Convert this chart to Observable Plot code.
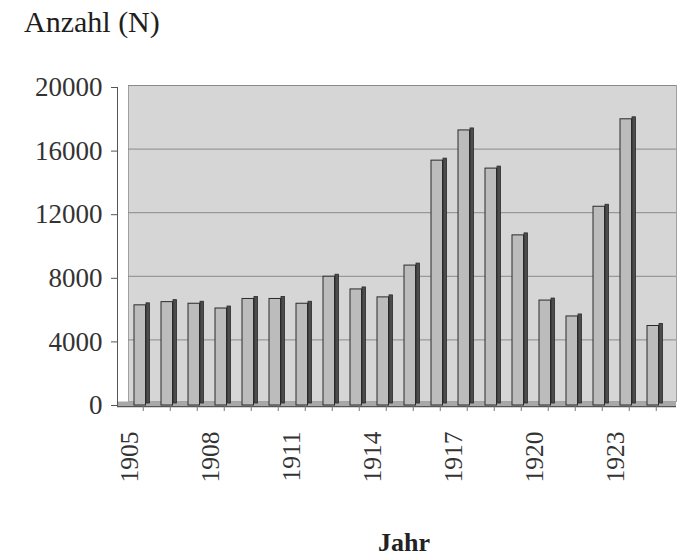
<!DOCTYPE html>
<html>
<head>
<meta charset="utf-8">
<script src="https://cdn.jsdelivr.net/npm/d3@7"></script>
<script src="https://cdn.jsdelivr.net/npm/@observablehq/plot@0.6"></script>
<style>
  html, body { margin: 0; padding: 0; background: #fff; }
  body { position: relative; width: 686px; height: 558px; overflow: hidden; font-family: "Liberation Serif", serif; color: #222; }
  #title { position: absolute; left: 24px; top: 5px; font-size: 30px; white-space: nowrap; color: #1e1e1e; }
  #chart { position: absolute; left: 0; top: 60px; }
  #xlabel { position: absolute; left: 304px; width: 200px; text-align: center; top: 528px; font-size: 26px; font-weight: bold; }
</style>
</head>
<body>
<div id="title">Anzahl (N)</div>
<div id="chart"></div>
<div id="xlabel">Jahr</div>
<script>
const years = [1905, 1906, 1907, 1908, 1909, 1910, 1911, 1912, 1913, 1914,
               1915, 1916, 1917, 1918, 1919, 1920, 1921, 1922, 1923, 1924];
const counts = [6300, 6500, 6400, 6100, 6700, 6700, 6400, 8100, 7300, 6800,
                8800, 15400, 17300, 14900, 10700, 6600, 5600, 12500, 18000, 5000];
const yTicks = [0, 4000, 8000, 12000, 16000, 20000];
const xTickYears = [1905, 1908, 1911, 1914, 1917, 1920, 1923];

const data = years.map((year, i) => ({year, value: counts[i]}));

const chart = Plot.plot({
  width: 686,
  height: 440,
  marginLeft: 117,
  marginRight: 10,
  marginTop: 27,
  marginBottom: 95,
  style: {fontFamily: "Liberation Serif, serif", background: "transparent", color: "#333"},
  x: {type: "band", domain: years, range: [123, 673], padding: 0, label: null},
  y: {domain: [0, 20000], label: null},
  marks: [
    Plot.frame({fill: "#d6d6d6", stroke: "#a0a0a0", insetLeft: 11, insetTop: -2, insetBottom: 4}),
    Plot.gridY(yTicks, {stroke: "#8a8a8a", strokeOpacity: 1, insetLeft: 11, dy: -2}),
    Plot.ruleY([0], {stroke: "#a8a8a8", strokeWidth: 6, dy: -1}),
    Plot.barY(data, {x: "year", y: "value", fill: "#4c4c4c", stroke: "#2a2a2a", strokeWidth: 0.8, insetLeft: 18, insetRight: 5.5, dy: -2}),
    Plot.barY(data, {x: "year", y: "value", fill: "#bcbcbc", stroke: "#2a2a2a", strokeWidth: 1, insetLeft: 6, insetRight: 9.5}),
    Plot.frame({anchor: "left", stroke: "#555"}),
    Plot.ruleY([0], {stroke: "#555", dy: 1}),
    Plot.axisY({ticks: yTicks, tickFormat: d3.format("d"), tickSize: 6, tickPadding: 9, fontSize: 27, stroke: "#555", fill: "#333", label: null}),
    Plot.axisX({ticks: years, tickFormat: () => "", tickSize: 5, dx: 1.25, dy: 1, stroke: "#777", label: null}),
    Plot.axisX({ticks: xTickYears, tickFormat: d3.format("d"), tickRotate: -90, tickSize: 0, tickPadding: 26, dx: -12.5, fontSize: 25.5, fill: "#333", label: null})
  ]
});
document.getElementById("chart").appendChild(chart);
</script>
</body>
</html>
